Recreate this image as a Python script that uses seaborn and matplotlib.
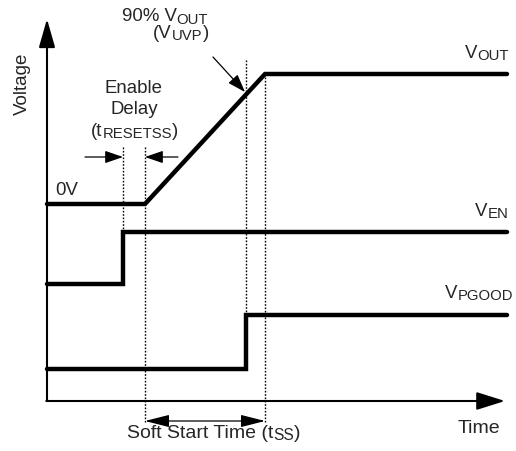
import matplotlib
matplotlib.use("Agg")
import matplotlib.pyplot as plt
import matplotlib.transforms as mtransforms
import seaborn as sns
import pandas as pd

# ---- data (time units / voltage units, schematic) ----
signal_names = ["VOUT", "VEN", "VPGOOD"]
vout_time = [0, 98, 218, 460]
vout_level = [197, 197, 327, 327]
ven_time = [0, 76, 76, 460]
ven_level = [117, 117, 169, 169]
vpgood_time = [0, 199, 199, 460]
vpgood_level = [32, 32, 86, 86]

sns.set_style("white")
plt.rcParams["font.family"] = ["Liberation Sans", "DejaVu Sans"]

DPI = 100
BASE = 13.4
SUB_RATIO = 0.8
DROP = 1.8

frames = []
for name, t, v in zip(signal_names,
                      [vout_time, ven_time, vpgood_time],
                      [vout_level, ven_level, vpgood_level]):
    frames.append(pd.DataFrame({"time": t, "level": v, "signal": name}))
df = pd.concat(frames, ignore_index=True)

fig = plt.figure(figsize=(5.16, 4.52), dpi=DPI)
ax = fig.add_axes([0, 0, 1, 1])
ax.set_xlim(-47, 469)
ax.set_ylim(-50, 402)
ax.axis("off")

sns.lineplot(data=df, x="time", y="level", hue="signal",
             palette={n: "black" for n in signal_names},
             estimator=None, sort=False, legend=False, ax=ax,
             linewidth=3.2, solid_capstyle="round", solid_joinstyle="miter")

# axes with arrows
ax.annotate("", xy=(0, 382), xytext=(0, 0),
            arrowprops=dict(arrowstyle="-|>,head_length=1.75,head_width=0.5",
                            mutation_scale=10, lw=1.5, color="black",
                            shrinkA=0, shrinkB=0))
ax.annotate("", xy=(458, 0), xytext=(-0.7, 0),
            arrowprops=dict(arrowstyle="-|>,head_length=1.75,head_width=0.55",
                            mutation_scale=10, lw=1.5, color="black",
                            shrinkA=0, shrinkB=0))

# dotted guide lines (at signal transitions)
dot = dict(color="black", lw=1.0, linestyle=(0, (1.2, 1.2)))
ax.plot([ven_time[1], ven_time[1]], [ven_level[2], 255], **dot)
ax.plot([vout_time[1], vout_time[1]], [-21, 255], **dot)
ax.plot([vpgood_time[1], vpgood_time[1]], [vpgood_level[2], 342], **dot)
ax.plot([vout_time[2], vout_time[2]], [-21, vout_level[2]], **dot)

# enable delay arrows
small = dict(arrowstyle="-|>,head_length=1.1,head_width=0.38", mutation_scale=10,
             lw=0.9, color="black", shrinkA=0, shrinkB=0)
ax.annotate("", xy=(ven_time[1], 244), xytext=(38, 244), arrowprops=small)
ax.annotate("", xy=(vout_time[1], 244), xytext=(131, 244), arrowprops=small)

# 90% arrow
ax.annotate("", xy=(198, 309), xytext=(166, 344),
            arrowprops=dict(arrowstyle="-|>,head_length=1.1,head_width=0.38",
                            mutation_scale=10, lw=0.9, color="black",
                            shrinkA=0, shrinkB=0))

# soft-start double arrow
ax.annotate("", xy=(vout_time[2], -20), xytext=(vout_time[1], -20),
            arrowprops=dict(arrowstyle="<|-|>,head_length=1.5,head_width=0.38",
                            mutation_scale=10, lw=0.9, color="black",
                            shrinkA=0, shrinkB=0))

fig.canvas.draw()
renderer = fig.canvas.get_renderer()


def rich(x, y, segs, ha="left", size=BASE):
    items = []
    for s, is_sub in segs:
        fs = size * SUB_RATIO if is_sub else size
        t = ax.text(x, y, s, fontsize=fs, ha="left", va="baseline", clip_on=False)
        w = t.get_window_extent(renderer).width * 72.0 / DPI
        items.append((t, w, -DROP if is_sub else 0.0))
    total = sum(w for _, w, _ in items)
    off = {"left": 0.0, "center": -total / 2, "right": -total}[ha]
    for t, w, dy in items:
        t.set_transform(mtransforms.offset_copy(ax.transData, fig=fig, x=off, y=dy,
                                                units="points"))
        off += w


rich(118, 381, [("90% V", False), ("OUT", True)], ha="center")
rich(134, 364, [("(V", False), ("UVP", True), (")", False)], ha="center")
rich(87, 309, [("Enable", False)], ha="center")
rich(87, 288, [("Delay", False)], ha="center")
rich(87.5, 266, [("(t", False), ("RESETSS", True), (")", False)], ha="center")
rich(8, 207, [("0V", False)])
rich(418, 344, [("V", False), ("OUT", True)])
rich(428, 186, [("V", False), ("EN", True)])
rich(398, 104, [("V", False), ("PGOOD", True)])
rich(411, -31, [("Time", False)], size=14)
rich(167, -36, [("Soft Start Time (t", False), ("SS", True), (")", False)],
     ha="center", size=14)

ax.text(-25, 318, "Voltage", rotation=90, fontsize=13.5, ha="center", va="center")

fig.savefig("out.png", dpi=DPI, facecolor="white")
